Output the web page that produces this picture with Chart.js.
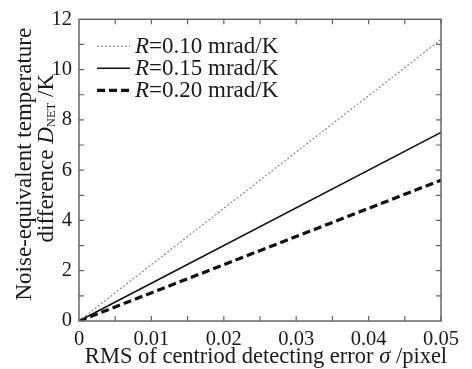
<!DOCTYPE html>
<html>
<head>
<meta charset="utf-8">
<script src="https://cdn.jsdelivr.net/npm/chart.js@4/dist/chart.umd.min.js"></script>
<style>
  html, body { margin: 0; padding: 0; background: #fff; }
</style>
</head>
<body>
<canvas id="netChart" width="472" height="369"></canvas>
<script>
// values
const sigma = [0, 0.05];
const netR010 = [0, 11.2];
const netR015 = [0, 7.5];
const netR020 = [0, 5.6];
const seriesLabels = ['0.10 mrad/K', '0.15 mrad/K', '0.20 mrad/K'];
const xTickValues = [0, 0.01, 0.02, 0.03, 0.04, 0.05];
const yTickValues = [0, 2, 4, 6, 8, 10, 12];

const serif = '"Liberation Serif", "DejaVu Serif", serif';
const ink = '#1a1a1a';

function toPoints(ys) {
  return sigma.map((x, i) => ({ x: x, y: ys[i] }));
}

const styles = [
  { borderColor: '#8a8a8a', borderWidth: 1.2, borderDash: [2, 2] },
  { borderColor: '#111', borderWidth: 1.6, borderDash: [] },
  { borderColor: '#111', borderWidth: 3.2, borderDash: [8, 4] }
];

// frame with inward ticks on all four sides
const framePlugin = {
  id: 'frame',
  afterDatasetsDraw(chart) {
    const ctx = chart.ctx;
    const a = chart.chartArea;
    const xs = chart.scales.x, ys = chart.scales.y;
    ctx.save();
    ctx.strokeStyle = '#666';
    ctx.lineWidth = 1.5;
    ctx.strokeRect(a.left, a.top, a.right - a.left, a.bottom - a.top);
    ctx.lineWidth = 1.2;
    ctx.beginPath();
    for (let v = 0.005; v < 0.05; v += 0.005) {
      const px = xs.getPixelForValue(v);
      ctx.moveTo(px, a.bottom); ctx.lineTo(px, a.bottom - 5);
      ctx.moveTo(px, a.top); ctx.lineTo(px, a.top + 5);
    }
    for (let v = 1; v < 12; v++) {
      const py = ys.getPixelForValue(v);
      ctx.moveTo(a.left, py); ctx.lineTo(a.left + 5, py);
      ctx.moveTo(a.right, py); ctx.lineTo(a.right - 5, py);
    }
    ctx.stroke();
    ctx.restore();
  }
};

// draws a run of [text, style] pieces starting at x
function drawRich(ctx, parts, x, y, size) {
  parts.forEach(p => {
    const s = p[1] === 'sub' ? size * 0.55 : size;
    ctx.font = (p[1] === 'italic' ? 'italic ' : '') + s + 'px ' + serif;
    const dy = p[1] === 'sub' ? size * 0.22 : 0;
    ctx.fillText(p[0], x, y + dy);
    x += ctx.measureText(p[0]).width;
  });
  return x;
}
function richWidth(ctx, parts, size) {
  let w = 0;
  parts.forEach(p => {
    const s = p[1] === 'sub' ? size * 0.55 : size;
    ctx.font = (p[1] === 'italic' ? 'italic ' : '') + s + 'px ' + serif;
    w += ctx.measureText(p[0]).width;
  });
  return w;
}

const textPlugin = {
  id: 'texts',
  afterDraw(chart) {
    const ctx = chart.ctx;
    const a = chart.chartArea;
    ctx.save();
    ctx.fillStyle = ink;
    ctx.textBaseline = 'middle';
    ctx.textAlign = 'left';

    // x axis title
    const xt = [['RMS of centriod detecting error ', 'n'], ['σ', 'italic'], [' /pixel', 'n']];
    const xw = richWidth(ctx, xt, 22.5);
    drawRich(ctx, xt, (a.left + a.right) / 2 + 6 - xw / 2, 357, 22.5);

    // y axis title, two rotated lines
    const cy = (a.top + a.bottom) / 2;
    const l1 = [['Noise-equivalent temperature', 'n']];
    const l2 = [['difference ', 'n'], ['D', 'italic'], ['NET', 'sub'], [' /K', 'n']];
    ctx.save();
    ctx.translate(25, cy);
    ctx.rotate(-Math.PI / 2);
    drawRich(ctx, l1, -richWidth(ctx, l1, 23) / 2 + 6, 0, 23);
    ctx.restore();
    ctx.save();
    ctx.translate(47, cy);
    ctx.rotate(-Math.PI / 2);
    drawRich(ctx, l2, -richWidth(ctx, l2, 23) / 2 + 12, 0, 23);
    ctx.restore();

    // legend
    seriesLabels.forEach((lab, i) => {
      const y = a.top + 27 + i * 22;
      const st = styles[i];
      ctx.save();
      ctx.strokeStyle = st.borderColor;
      ctx.lineWidth = st.borderWidth;
      ctx.setLineDash(st.borderDash);
      ctx.beginPath();
      ctx.moveTo(97, y); ctx.lineTo(130, y);
      ctx.stroke();
      ctx.restore();
      drawRich(ctx, [['R', 'italic'], ['=' + lab, 'n']], 135, y + 1, 23);
    });
    ctx.restore();
  }
};

new Chart(document.getElementById('netChart'), {
  type: 'scatter',
  data: {
    datasets: [netR010, netR015, netR020].map((ys, i) => Object.assign({
      label: 'R=' + seriesLabels[i],
      data: toPoints(ys),
      showLine: true,
      pointRadius: 0,
      fill: false
    }, styles[i]))
  },
  options: {
    responsive: false,
    animation: false,
    layout: { padding: { top: 16, right: 31, left: 0, bottom: 0 } },
    plugins: { legend: { display: false }, tooltip: { enabled: false } },
    scales: {
      x: {
        type: 'linear', min: 0, max: 0.05,
        afterBuildTicks: s => { s.ticks = xTickValues.map(v => ({ value: v })); },
        afterFit: s => { s.height = 48; },
        grid: { display: false, drawTicks: false },
        border: { display: false },
        ticks: {
          padding: 6, color: ink, maxRotation: 0,
          font: { family: serif, size: 20.5 },
          callback: v => v === 0 ? '0' : v.toFixed(2)
        }
      },
      y: {
        type: 'linear', min: 0, max: 12,
        afterBuildTicks: s => { s.ticks = yTickValues.map(v => ({ value: v })); },
        afterFit: s => { s.width = 79; },
        grid: { display: false, drawTicks: false },
        border: { display: false },
        ticks: {
          padding: 7, color: ink,
          font: { family: serif, size: 20.5 }
        }
      }
    }
  },
  plugins: [framePlugin, textPlugin]
});
</script>
</body>
</html>
